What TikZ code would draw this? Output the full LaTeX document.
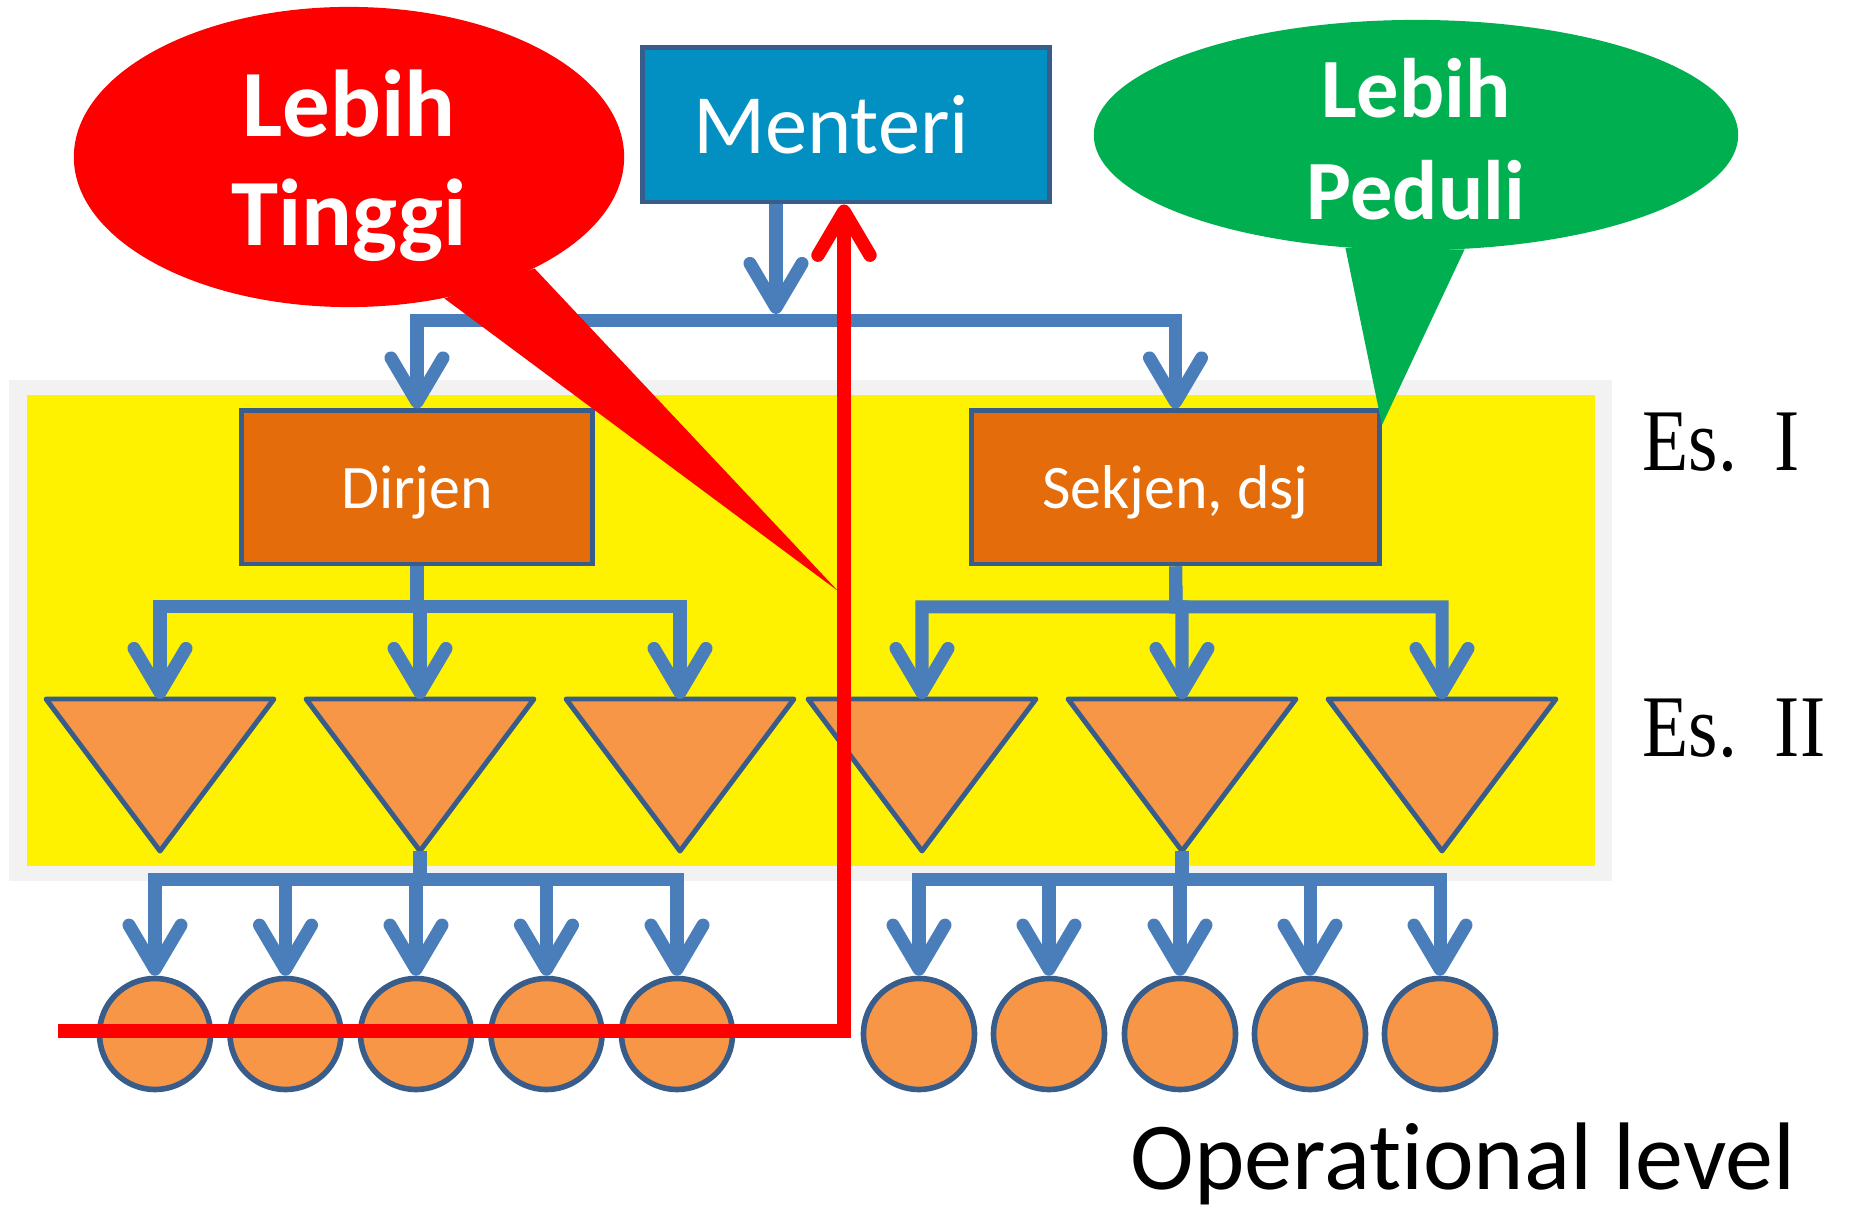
\documentclass[tikz,border=0pt]{standalone}
\usepackage{fontspec}
\setmainfont{Carlito}[Ligatures=NoCommon]
\newfontfamily\serifface{Liberation Serif}[FakeStretch=0.86]
\usetikzlibrary{arrows.meta,shapes.geometric}
\definecolor{linkblue}{HTML}{4A7EBB}
\definecolor{edgeblue}{HTML}{385D8A}
\definecolor{topblue}{HTML}{0290C2}
\definecolor{unitorange}{HTML}{E46C0A}
\definecolor{lightorange}{HTML}{F79646}
\definecolor{callgreen}{HTML}{00B050}
\begin{document}
\begin{tikzpicture}[x=0.01cm,y=-0.01cm,
  arr/.style={draw=linkblue, line width=3.7pt, -{Straight Barb[length=4.4mm,width=5.2mm,round]}},
  redarr/.style={draw=red, line width=3.8pt, -{Straight Barb[length=4.4mm,width=5.2mm,round]}},
  unitbox/.style={draw=edgeblue, line width=1.4pt, fill=unitorange, text=white, minimum height=1.53cm, text depth=0pt, font=\fontsize{17.6}{21}\selectfont},
  tri/.style={draw=edgeblue, line width=1.4pt, fill=lightorange, line join=round},
  opnode/.style={circle, draw=edgeblue, line width=1.6pt, fill=lightorange, minimum size=1.11cm, inner sep=0pt},
  bubble/.style={ellipse, inner sep=0pt},
  bubbletext/.style={text=white, align=center, inner sep=0pt},
  eslabel/.style={anchor=base west, inner sep=0pt, font=\serifface\fontsize{25}{30}\selectfont}]
\useasboundingbox (0,0) rectangle (1850,1216);
% echelon area
\fill[black!5] (9,380) rectangle (1612,881);
\fill[yellow] (27,395) rectangle (1595,866);
% boxes
\node[draw=edgeblue, line width=1.4pt, fill=topblue, text=white, minimum width=4.06cm, minimum height=1.54cm, font=\fontsize{24}{29}\selectfont] (menteri) at (846,125) {Menteri\kern8.5pt};
\node[unitbox, minimum width=3.50cm] (dirjen) at (417,487.5) {Dirjen};
\node[unitbox, minimum width=4.07cm] (sekjen) at (1175.5,487.5) {Sekjen, dsj};
% Es. II triangles
\foreach \n/\cx in {1/160,2/420,3/680,4/922,5/1182,6/1442}{
  \draw[tri] (\cx-114,699) -- (\cx+114,699) -- (\cx,851) -- cycle;
  \coordinate (t\n-n) at (\cx,699);
  \coordinate (t\n-s) at (\cx,851);
}
% operational units
\foreach \n/\cx in {1/155,2/285.5,3/416,4/546.5,5/677,6/919,7/1049,8/1180,9/1310,10/1440}
  \node[opnode] (c\n) at (\cx,1034) {};
% connectors
\coordinate (top-bus) at (776,321);
\coordinate (d-bus) at (417,607);
\coordinate (s-bus) at (1176,607);
\coordinate (l-bus) at (420,880);
\coordinate (r-bus) at (1182,880);
\draw[arr] (menteri.south -| top-bus) -- ([yshift=0.7mm]top-bus);
\draw[arr] (top-bus) -| (dirjen.north);
\draw[arr] (top-bus) -| (sekjen.north);
\foreach \n in {1,2,3}
  \draw[arr] (dirjen.south) -- (d-bus) -| (t\n-n);
\foreach \n in {4,5,6}
  \draw[arr] (sekjen.south) -- (s-bus) -| (t\n-n);
\foreach \n in {1,...,5}
  \draw[arr] (t2-s) -- (l-bus) -| (c\n.north);
\foreach \n in {6,...,10}
  \draw[arr] (t5-s) -- (r-bus) -| (c\n.north);
% callouts
\node[bubble, fill=red, minimum width=5.5cm, minimum height=3.0cm] (tinggi) at (349,157) {};
\coordinate (tinggi-tip) at (838,591);
\fill[red] (tinggi.-31) -- (tinggi-tip) -- (tinggi.-56) -- cycle;
\node[bubbletext, font=\fontsize{27}{31}\selectfont\bfseries] (tinggi-text) at (349,166) {Lebih\\Tinggi};
\node[bubble, fill=callgreen, minimum width=6.44cm, minimum height=2.3cm] (peduli) at (1416,135) {};
\coordinate (peduli-tip) at (1382,425);
\fill[callgreen] (peduli.-122) -- (peduli-tip) -- (peduli.-67) -- cycle;
\node[bubbletext, font=\fontsize{24}{29}\selectfont\bfseries] (peduli-text) at (1416,139) {Lebih\\Peduli};
% red path
\coordinate (r-start) at (58,1031);
\coordinate (r-turn) at (844,1031);
\draw[redarr] (r-start) -- (r-turn) -- (r-turn |- menteri.south);
% labels
\node[eslabel] (es1) at (1642,471) {Es.\ \ I};
\node[eslabel] (es2) at (1642,757) {Es.\ \ II};
\node[anchor=base west, inner sep=0pt, font=\fontsize{27.3}{32}\selectfont] (oplevel) at (1130,1190) {Operational level};
\end{tikzpicture}
\end{document}
